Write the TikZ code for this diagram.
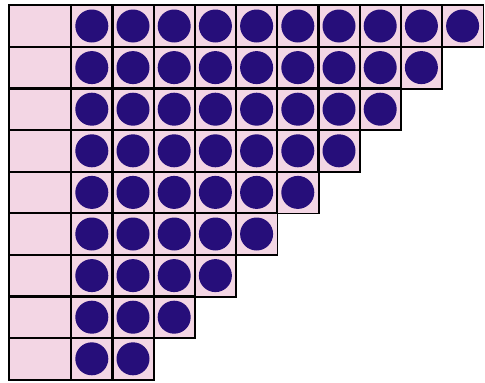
\documentclass[tikz,border=0pt]{standalone}
\usepackage{tikz}
\definecolor{cellpink}{RGB}{243,214,228}
\definecolor{dotblue}{RGB}{38,14,122}
\tikzset{
  rowhead/.style={fill=cellpink, minimum width=62pt, minimum height=41.6pt, inner sep=0pt, anchor=north west},
  cell/.style   ={fill=cellpink, minimum width=41.2pt, minimum height=41.6pt, inner sep=0pt, anchor=north west},
  dot/.style    ={circle, fill=dotblue, minimum size=33pt, inner sep=0pt},
  rule/.style   ={draw=black, line width=1.8pt},
}
\begin{document}
\begin{tikzpicture}[x=1pt,y=1pt]
  \useasboundingbox (0,0) rectangle (485,-383);
  % staircase of rows: row r holds 11-r dots
  \foreach \r in {1,...,9}{
    \node[rowhead] (h\r) at (9,{-5-(\r-1)*41.6}) {};
    \pgfmathtruncatemacro{\n}{11-\r}
    \foreach \c in {1,...,\n}{
      \node[cell] (c\r-\c) at ({71+(\c-1)*41.2},{-5-(\r-1)*41.6}) {};
      \node[dot] (d\r-\c) at (c\r-\c.center) {};
    }
  }
  % cell borders on top of the fills
  \foreach \r in {1,...,9}{
    \draw[rule] (h\r.north west) rectangle (h\r.south east);
    \pgfmathtruncatemacro{\n}{11-\r}
    \foreach \c in {1,...,\n}
      \draw[rule] (c\r-\c.north west) rectangle (c\r-\c.south east);
  }
\end{tikzpicture}
\end{document}
